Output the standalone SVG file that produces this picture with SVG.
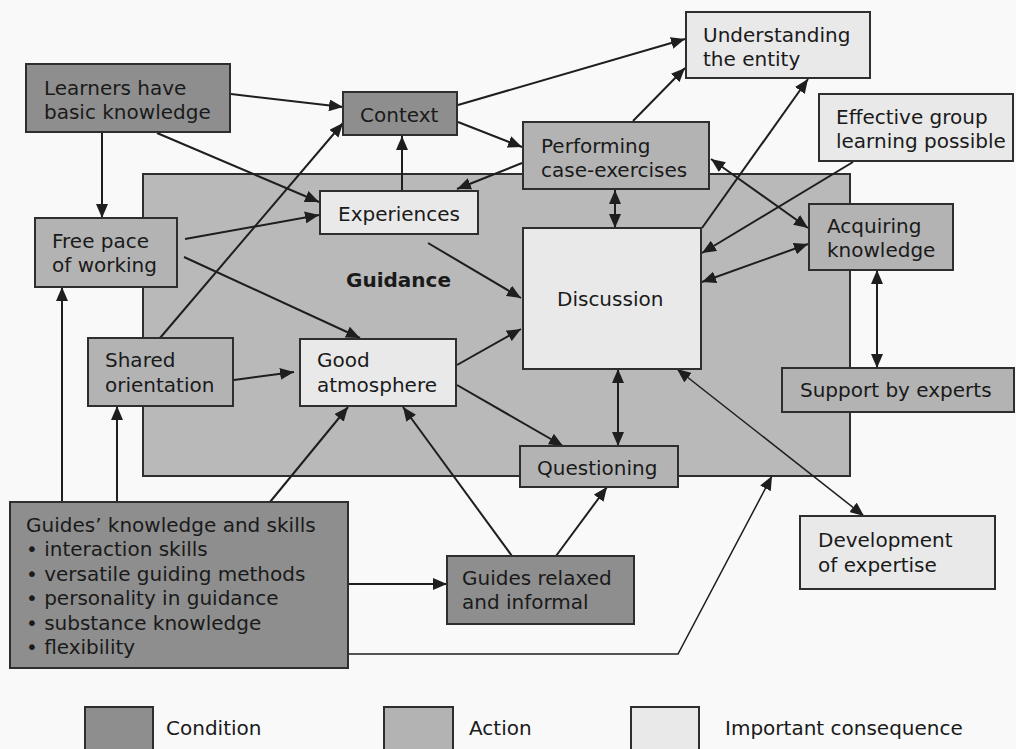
<svg xmlns="http://www.w3.org/2000/svg" width="1016" height="749" viewBox="0 0 1016 749">
  <defs>
    <style>
      text { font-family: "DejaVu Sans", Verdana, sans-serif; font-size: 20px; fill: #1a1a1a; }
      .box { stroke: #2e2e2e; stroke-width: 2; }
      .cond { fill: #8e8e8e; }
      .act { fill: #b3b3b3; }
      .cons { fill: #e9e9e9; }
      .area { fill: #b9b9b9; stroke: #2e2e2e; stroke-width: 2; }
      .title { font-weight: bold; font-size: 20px; }
      .link { fill: none; stroke: #1e1e1e; stroke-width: 2; }
      .thin { stroke-width: 1.5; }
    </style>
    <marker id="ah" viewBox="0 0 14 12" refX="14" refY="6" markerWidth="14" markerHeight="12" markerUnits="userSpaceOnUse" orient="auto-start-reverse">
      <path d="M0,0 L14,6 L0,12 Z" fill="#1e1e1e"/>
    </marker>
  </defs>

  <rect width="1016" height="749" fill="#f9f9f9"/>

  <!-- Guidance area -->
  <g id="guidance">
    <rect class="area" x="143" y="174" width="707" height="302"/>
    <text class="title" x="346" y="287">Guidance</text>
  </g>

  <!-- connectors -->
  <g id="connectors">
    <line class="link" x1="231" y1="94" x2="343" y2="107" marker-end="url(#ah)"/>
    <line class="link" x1="102" y1="133" x2="102" y2="218" marker-end="url(#ah)"/>
    <line class="link" x1="157" y1="133" x2="319" y2="202" marker-end="url(#ah)"/>
    <line class="link" x1="185" y1="239" x2="319" y2="215" marker-end="url(#ah)"/>
    <line class="link" x1="160" y1="338" x2="343" y2="123" marker-end="url(#ah)"/>
    <line class="link" x1="402" y1="191" x2="402" y2="136" marker-end="url(#ah)"/>
    <line class="link" x1="522" y1="163" x2="457" y2="189" marker-end="url(#ah)"/>
    <line class="link" x1="458" y1="105" x2="685" y2="39" marker-end="url(#ah)"/>
    <line class="link" x1="458" y1="122" x2="522" y2="147" marker-end="url(#ah)"/>
    <line class="link" x1="633" y1="121" x2="685" y2="68" marker-end="url(#ah)"/>
    <line class="link" x1="702" y1="228" x2="808" y2="79" marker-end="url(#ah)"/>
    <line class="link" x1="615" y1="190" x2="615" y2="228" marker-start="url(#ah)" marker-end="url(#ah)"/>
    <line class="link" x1="711" y1="159" x2="808" y2="228" marker-start="url(#ah)" marker-end="url(#ah)"/>
    <line class="link" x1="853" y1="162" x2="702" y2="253" marker-end="url(#ah)"/>
    <line class="link" x1="808" y1="244" x2="702" y2="282" marker-start="url(#ah)" marker-end="url(#ah)"/>
    <line class="link" x1="877" y1="270" x2="877" y2="368" marker-start="url(#ah)" marker-end="url(#ah)"/>
    <line class="link" x1="428" y1="243" x2="521" y2="298" marker-end="url(#ah)"/>
    <line class="link" x1="457" y1="365" x2="521" y2="329" marker-end="url(#ah)"/>
    <line class="link" x1="184" y1="257" x2="360" y2="338" marker-end="url(#ah)"/>
    <line class="link" x1="234" y1="380" x2="294" y2="372" marker-end="url(#ah)"/>
    <line class="link" x1="457" y1="385" x2="563" y2="446" marker-end="url(#ah)"/>
    <line class="link" x1="618" y1="369" x2="618" y2="446" marker-start="url(#ah)" marker-end="url(#ah)"/>
    <line class="link thin" x1="677" y1="369" x2="864" y2="516" marker-start="url(#ah)" marker-end="url(#ah)"/>
    <line class="link" x1="62" y1="502" x2="62" y2="287" marker-end="url(#ah)"/>
    <line class="link" x1="117" y1="502" x2="117" y2="406" marker-end="url(#ah)"/>
    <line class="link" x1="270" y1="502" x2="348" y2="407" marker-end="url(#ah)"/>
    <line class="link" x1="512" y1="556" x2="403" y2="407" marker-end="url(#ah)"/>
    <line class="link" x1="556" y1="556" x2="607" y2="487" marker-end="url(#ah)"/>
    <line class="link" x1="348" y1="584" x2="447" y2="584" marker-end="url(#ah)"/>
    <polyline class="link thin" points="348,654 678,654 772,476" marker-end="url(#ah)"/>
  </g>

  <!-- nodes -->
  <g id="learners">
    <rect class="box cond" x="26" y="64" width="204" height="68"/>
    <text x="44" y="95">Learners have</text>
    <text x="44" y="119">basic knowledge</text>
  </g>
  <g id="context">
    <rect class="box cond" x="343" y="92" width="114" height="43"/>
    <text x="360" y="122">Context</text>
  </g>
  <g id="experiences">
    <rect class="box cons" x="320" y="191" width="158" height="43"/>
    <text x="338" y="221">Experiences</text>
  </g>
  <g id="understanding">
    <rect class="box cons" x="686" y="12" width="184" height="66"/>
    <text x="703" y="42">Understanding</text>
    <text x="703" y="66">the entity</text>
  </g>
  <g id="performing">
    <rect class="box act" x="523" y="122" width="186" height="67"/>
    <text x="541" y="153">Performing</text>
    <text x="541" y="177">case-exercises</text>
  </g>
  <g id="effective">
    <rect class="box cons" x="819" y="94" width="194" height="67"/>
    <text x="836" y="124">Effective group</text>
    <text x="836" y="148">learning possible</text>
  </g>
  <g id="acquiring">
    <rect class="box act" x="809" y="204" width="144" height="66"/>
    <text x="827" y="233">Acquiring</text>
    <text x="827" y="257">knowledge</text>
  </g>
  <g id="discussion">
    <rect class="box cons" x="523" y="228" width="178" height="141"/>
    <text x="557" y="306">Discussion</text>
  </g>
  <g id="support">
    <rect class="box act" x="782" y="368" width="232" height="44"/>
    <text x="800" y="397">Support by experts</text>
  </g>
  <g id="questioning">
    <rect class="box act" x="520" y="446" width="158" height="41"/>
    <text x="537" y="475">Questioning</text>
  </g>
  <g id="freepace">
    <rect class="box act" x="35" y="218" width="142" height="69"/>
    <text x="52" y="248">Free pace</text>
    <text x="52" y="272">of working</text>
  </g>
  <g id="shared">
    <rect class="box act" x="88" y="338" width="145" height="68"/>
    <text x="105" y="367">Shared</text>
    <text x="105" y="392">orientation</text>
  </g>
  <g id="atmosphere">
    <rect class="box cons" x="300" y="339" width="156" height="67"/>
    <text x="317" y="367">Good</text>
    <text x="317" y="392">atmosphere</text>
  </g>
  <g id="guides-knowledge">
    <rect class="box cond" x="10" y="502" width="338" height="166"/>
    <text x="26" y="532">Guides’ knowledge and skills</text>
    <text x="26" y="556">• interaction skills</text>
    <text x="26" y="581">• versatile guiding methods</text>
    <text x="26" y="605">• personality in guidance</text>
    <text x="26" y="630">• substance knowledge</text>
    <text x="26" y="654">• flexibility</text>
  </g>
  <g id="guides-relaxed">
    <rect class="box cond" x="447" y="556" width="187" height="68"/>
    <text x="462" y="585">Guides relaxed</text>
    <text x="462" y="609">and informal</text>
  </g>
  <g id="development">
    <rect class="box cons" x="800" y="516" width="195" height="73"/>
    <text x="818" y="547">Development</text>
    <text x="818" y="572">of expertise</text>
  </g>

  <!-- legend -->
  <g id="legend">
    <rect class="box cond" x="85" y="707" width="68" height="44"/>
    <text x="166" y="735">Condition</text>
    <rect class="box act" x="384" y="707" width="69" height="44"/>
    <text x="469" y="735">Action</text>
    <rect class="box cons" x="631" y="707" width="68" height="44"/>
    <text x="725" y="735">Important consequence</text>
  </g>
</svg>
